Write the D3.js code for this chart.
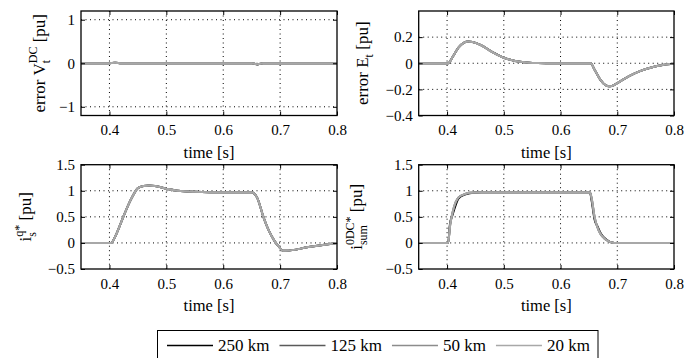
<!DOCTYPE html>
<html><head><meta charset="utf-8">
<script src="https://cdn.jsdelivr.net/npm/d3@7"></script>
<style>
html,body{margin:0;padding:0;background:#fff;}
svg{display:block;}
svg text{font-family:"Liberation Serif","Times New Roman","DejaVu Serif",serif !important;}
</style></head>
<body><svg id="c" width="684" height="358" font-family="Liberation Serif, serif"></svg>
<script>
// ---------- data ----------
const seriesNames = ["250 km", "125 km", "50 km", "20 km"];
const xTickValues = [0.4, 0.5, 0.6, 0.7, 0.8];

// panel 1: error V_t^DC
const t1 = [0.35,0.40,0.405,0.41,0.415,0.42,0.65,0.655,0.66,0.665,0.67,0.80];
const v1_250 = [0,0,0.006,0.014,0.005,0,0,-0.012,-0.03,-0.014,0,0];
const v1_125 = [0,0,0.005,0.012,0.004,0,0,-0.010,-0.026,-0.012,0,0];
const v1_50  = [0,0,0.005,0.012,0.004,0,0,-0.010,-0.025,-0.012,0,0];
const v1_20  = [0,0,0.005,0.011,0.004,0,0,-0.010,-0.024,-0.011,0,0];
const yTicks1 = [-1, 0, 1];

// panel 2: error E_t
const t2 = [0.35,0.40,0.402,0.41,0.42,0.43,0.437,0.445,0.46,0.48,0.50,0.52,0.54,0.56,0.60,0.653,0.66,0.67,0.68,0.685,0.69,0.70,0.72,0.74,0.76,0.78,0.80];
const v2_250 = [0,0,0,0.05,0.12,0.158,0.167,0.163,0.139,0.086,0.042,0.018,0.006,0.001,0,0,-0.05,-0.125,-0.17,-0.177,-0.175,-0.152,-0.100,-0.060,-0.032,-0.013,-0.004];
const v2_125 = [0,0,0,0.05,0.12,0.158,0.167,0.163,0.138,0.085,0.042,0.018,0.006,0.001,0,0,-0.05,-0.125,-0.17,-0.177,-0.175,-0.152,-0.100,-0.060,-0.032,-0.013,-0.004];
const v2_50  = [0,0,0,0.05,0.12,0.158,0.167,0.163,0.138,0.085,0.042,0.018,0.006,0.001,0,0,-0.05,-0.125,-0.17,-0.177,-0.175,-0.152,-0.100,-0.060,-0.032,-0.013,-0.004];
const v2_20  = [0,0,0,0.05,0.12,0.158,0.167,0.163,0.138,0.085,0.042,0.018,0.006,0.001,0,0,-0.05,-0.125,-0.17,-0.177,-0.175,-0.152,-0.100,-0.060,-0.032,-0.013,-0.004];
const yTicks2 = [-0.4, -0.2, 0, 0.2];

// panel 3: i_s^q*
const t3 = [0.35,0.40,0.403,0.41,0.42,0.43,0.44,0.45,0.46,0.47,0.48,0.50,0.52,0.55,0.60,0.65,0.653,0.66,0.67,0.68,0.69,0.70,0.705,0.71,0.75,0.80];
const v3_250 = [0,0,0,0.12,0.38,0.65,0.88,1.05,1.09,1.10,1.09,1.04,1.00,0.98,0.97,0.97,0.96,0.86,0.52,0.24,0.04,-0.10,-0.15,-0.15,-0.08,0];
const v3_125 = [0,0,0,0.12,0.38,0.65,0.88,1.05,1.09,1.10,1.09,1.04,1.00,0.98,0.97,0.97,0.96,0.86,0.52,0.24,0.04,-0.10,-0.15,-0.15,-0.08,0];
const v3_50  = [0,0,0,0.12,0.38,0.65,0.88,1.05,1.09,1.10,1.09,1.04,1.00,0.98,0.97,0.97,0.96,0.86,0.52,0.24,0.04,-0.10,-0.15,-0.15,-0.08,0];
const v3_20  = [0,0,0,0.12,0.38,0.65,0.88,1.05,1.09,1.10,1.09,1.04,1.00,0.98,0.97,0.97,0.96,0.86,0.52,0.24,0.04,-0.10,-0.15,-0.15,-0.08,0];
const yTicks3 = [-0.5, 0, 0.5, 1, 1.5];

// panel 4: i_sum^0DC*
const t4 = [0.35,0.40,0.402,0.405,0.41,0.415,0.42,0.43,0.44,0.46,0.50,0.65,0.652,0.655,0.66,0.665,0.67,0.675,0.68,0.69,0.70,0.80];
const v4_250 = [0,0,0,0.35,0.55,0.72,0.85,0.92,0.95,0.97,0.97,0.97,0.96,0.80,0.45,0.32,0.20,0.12,0.07,0.01,0,0];
const v4_125 = [0,0,0,0.32,0.59,0.77,0.87,0.93,0.96,0.97,0.97,0.97,0.96,0.84,0.49,0.30,0.18,0.11,0.06,0.01,0,0];
const v4_50  = [0,0,0,0.31,0.60,0.78,0.87,0.93,0.96,0.97,0.97,0.97,0.96,0.85,0.50,0.30,0.18,0.11,0.06,0.01,0,0];
const v4_20  = [0,0,0,0.30,0.60,0.78,0.87,0.93,0.96,0.97,0.97,0.97,0.96,0.85,0.50,0.30,0.18,0.11,0.06,0.01,0,0];
const yTicks4 = [-0.5, 0, 0.5, 1, 1.5];

// ---------- styles ----------
const colors = ["#000000", "#5a5a5a", "#8c8c8c", "#a8a8a8"];
const FONT = '"Liberation Serif","Times New Roman","DejaVu Serif",serif';
const TICK_FS = 15, LABEL_FS = 17, SMALL_FS = 12, LEGEND_FS = 17;

const svg = d3.select("#c");
const fmt = v => d3.format("")(v).replace("-", "\u2212");

const panels = [
  {t:t1, vals:[v1_250,v1_125,v1_50,v1_20], yd:[-1.2,1.2], yt:yTicks1,
   box:[81,11,337,115.5], lab:{x:45, parts:[{t:"error V"},{sub:"t",sup:"DC"},{t:" [pu]"}]}},
  {t:t2, vals:[v2_250,v2_125,v2_50,v2_20], yd:[-0.4,0.4], yt:yTicks2,
   box:[418.7,11,674,115.5], lab:{x:368, parts:[{t:"error E"},{sub:"t"},{t:" [pu]"}]}},
  {t:t3, vals:[v3_250,v3_125,v3_50,v3_20], yd:[-0.5,1.5], yt:yTicks3,
   box:[81,164.7,337,269], lab:{x:31, parts:[{t:"i"},{sub:"s",sup:"q*"},{t:" [pu]"}]}},
  {t:t4, vals:[v4_250,v4_125,v4_50,v4_20], yd:[-0.5,1.5], yt:yTicks4,
   box:[418.7,164.7,674,269], lab:{x:362, parts:[{t:"i"},{sub:"sum",sup:"0DC*"},{t:" [pu]"}]}}
];

function txt(sel) { return sel.attr("font-family", FONT).style("font-family", FONT); }

function richLabel(cx, cy, parts) {
  const g = svg.append("g").attr("transform", `translate(${cx},${cy}) rotate(-90)`);
  const inner = g.append("g");
  let x = 0;
  parts.forEach(p => {
    if (p.t !== undefined) {
      const el = txt(inner.append("text")).attr("x", x).attr("y", 0)
        .attr("font-size", LABEL_FS).style("white-space","pre").text(p.t);
      x += el.node().getComputedTextLength();
    } else {
      let w = 0;
      if (p.sub) {
        const s = txt(inner.append("text")).attr("x", x).attr("y", 5).attr("font-size", SMALL_FS).text(p.sub);
        w = Math.max(w, s.node().getComputedTextLength());
      }
      if (p.sup) {
        const s = txt(inner.append("text")).attr("x", x).attr("y", -8).attr("font-size", SMALL_FS).text(p.sup);
        w = Math.max(w, s.node().getComputedTextLength());
      }
      x += w;
    }
  });
  inner.attr("transform", `translate(${-x/2},0)`);
}

panels.forEach(p => {
  const [x0,y0,x1,y1] = p.box;
  const xs = d3.scaleLinear().domain([0.35,0.8]).range([x0,x1]);
  const ys = d3.scaleLinear().domain(p.yd).range([y1,y0]);
  const g = svg.append("g");

  // grid
  g.selectAll(".gx").data(xTickValues.filter(v => v < 0.8)).enter().append("line")
    .attr("x1", d=>xs(d)).attr("x2", d=>xs(d)).attr("y1", y0).attr("y2", y1)
    .attr("stroke","#000").attr("stroke-width",1).attr("stroke-dasharray","1,3.5");
  g.selectAll(".gy").data(p.yt.filter(v => v > p.yd[0] && v < p.yd[1])).enter().append("line")
    .attr("x1", x0).attr("x2", x1).attr("y1", d=>ys(d)).attr("y2", d=>ys(d))
    .attr("stroke","#000").attr("stroke-width",1).attr("stroke-dasharray","1,3.5");

  // lines
  const line = d3.line().x(d=>xs(d[0])).y(d=>ys(d[1])).curve(d3.curveMonotoneX);
  p.vals.forEach((vals, i) => {
    g.append("path").datum(p.t.map((tt,k)=>[tt, vals[k]]))
      .attr("d", line).attr("fill","none").attr("stroke", colors[i])
      .attr("stroke-width", 2).attr("stroke-linejoin","round");
  });

  // axes (ticks inward)
  const ax = g.append("g").attr("transform",`translate(0,${y1})`)
    .call(d3.axisBottom(xs).tickValues(xTickValues).tickSize(-4).tickPadding(9).tickFormat(d3.format(".1f")));
  const axT = g.append("g").attr("transform",`translate(0,${y0})`)
    .call(d3.axisTop(xs).tickValues(xTickValues).tickSize(-4).tickFormat(""));
  const ay = g.append("g").attr("transform",`translate(${x0},0)`)
    .call(d3.axisLeft(ys).tickValues(p.yt).tickSize(-4).tickPadding(6).tickFormat(fmt));
  const ayR = g.append("g").attr("transform",`translate(${x1},0)`)
    .call(d3.axisRight(ys).tickValues(p.yt).tickSize(-4).tickFormat(""));
  [ax,axT,ay,ayR].forEach(a => {
    a.attr("font-family", FONT);
    a.select(".domain").remove();
    a.selectAll("line").attr("stroke","#000");
    txt(a.selectAll("text")).attr("fill","#000").attr("font-size",TICK_FS);
  });
  g.append("rect").attr("x",x0).attr("y",y0).attr("width",x1-x0).attr("height",y1-y0)
    .attr("fill","none").attr("stroke","#000").attr("stroke-width",1.3);

  // x label
  txt(g.append("text")).attr("x",(x0+x1)/2).attr("y", y1+42).attr("text-anchor","middle")
    .attr("font-size",16.5).text("time [s]");

  richLabel(p.lab.x, (y0+y1)/2, p.lab.parts);
});

// legend
const lg = svg.append("g");
lg.append("rect").attr("x",157.5).attr("y",330.5).attr("width",440.5).attr("height",40)
  .attr("fill","#fff").attr("stroke","#000").attr("stroke-width",1);
let lx = 167;
seriesNames.forEach((name, i) => {
  lg.append("line").attr("x1",lx).attr("x2",lx+46).attr("y1",345.5).attr("y2",345.5)
    .attr("stroke",colors[i]).attr("stroke-width",1.5);
  const tx = txt(lg.append("text")).attr("x",lx+51).attr("y",351).attr("font-size",LEGEND_FS).text(name);
  lx = lx + 51 + tx.node().getComputedTextLength() + 10;
});
</script></body></html>
